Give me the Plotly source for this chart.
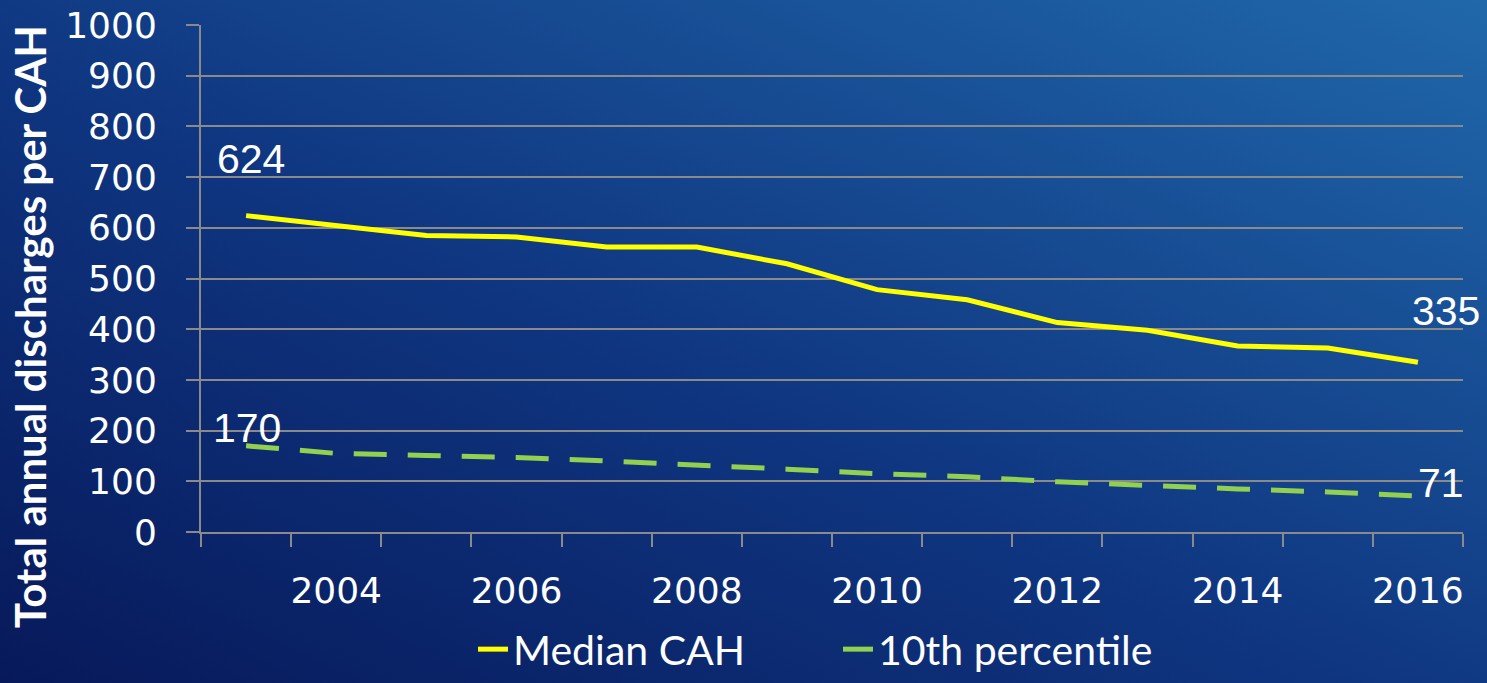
import base64
import plotly.graph_objects as go

# ---- data ----
years = [2003, 2004, 2005, 2006, 2007, 2008, 2009, 2010, 2011, 2012, 2013, 2014, 2015, 2016]
median_cah = [624, 604, 585, 582, 562, 562, 529, 478, 458, 413, 398, 367, 363, 335]
p10 = [170, 155, 151, 147, 140, 133, 124, 115, 109, 99, 91, 85, 79, 71]
tick_years = [2004, 2006, 2008, 2010, 2012, 2014, 2016]
y_ticks = [0, 100, 200, 300, 400, 500, 600, 700, 800, 900, 1000]
series_names = ["Median CAH", "10th percentile"]
y_title = "Total annual discharges per CAH"

W, H = 1487, 683
L, R, T, B = 201, 24, 25, 151
pw, ph = W - L - R, H - T - B

# background gradient as svg image
svg = f'''<svg xmlns="http://www.w3.org/2000/svg" width="{W}" height="{H}" viewBox="0 0 {W} {H}" preserveAspectRatio="none">
<defs><linearGradient id="g" x1="0" y1="1" x2="1" y2="0">
<stop offset="0" stop-color="#07195a"/>
<stop offset="0.45" stop-color="#0f3580"/>
<stop offset="1" stop-color="#2068aa"/>
</linearGradient></defs>
<rect x="0" y="0" width="{W}" height="{H}" fill="url(#g)"/></svg>'''
src = "data:image/svg+xml;base64," + base64.b64encode(svg.encode()).decode()

grid = "#8a8a8a"
tick_font = dict(family="DejaVu Sans, sans-serif", size=36, color="white")
lbl_font = dict(family="Liberation Sans, Arial, sans-serif", size=41, color="white")

fig = go.Figure()
fig.add_trace(go.Scatter(x=years, y=median_cah, mode="lines", name=series_names[0],
                         line=dict(color="#ffff00", width=5)))
fig.add_trace(go.Scatter(x=years, y=p10, mode="lines", name=series_names[1],
                         line=dict(color="#92d050", width=5, dash="33px,21px")))

# value labels at ends
ann = [
    (years[0], median_cah[0], 5, 57),
    (years[-1], median_cah[-1], 28, 51),
    (years[0], p10[0], 1, 18),
    (years[-1], p10[-1], 23, 13),
]
for x, y, xs, ys in ann:
    fig.add_annotation(x=x, y=y, text=str(y), showarrow=False, xshift=xs, yshift=ys, font=lbl_font)

# y-axis title as rotated annotation
fig.add_annotation(xref="paper", yref="paper", x=(30 - L) / pw, y=(H - B - 327) / ph,
                   text="<b>" + y_title + "</b>", textangle=-90, showarrow=False,
                   xanchor="center", yanchor="middle",
                   font=dict(family="Lato, sans-serif", size=42, color="white"))

boundaries = [y - 0.5 for y in years] + [years[-1] + 0.5]

fig.update_layout(
    width=W, height=H,
    margin=dict(l=L, r=R, t=T, b=B, pad=0, autoexpand=False),
    paper_bgcolor="#0f3580",
    plot_bgcolor="rgba(0,0,0,0)",
    images=[dict(source=src, xref="paper", yref="paper",
                 x=-L / pw, y=1 + T / ph, sizex=W / pw, sizey=H / ph,
                 sizing="stretch", layer="below", xanchor="left", yanchor="top")],
    showlegend=True,
    legend=dict(orientation="h", xref="container", yref="container",
                x=473 / W, xanchor="left", y=-8 / H, yanchor="bottom",
                font=dict(family="Lato, sans-serif", size=41, color="white"),
                bgcolor="rgba(0,0,0,0)", entrywidth=320, entrywidthmode="pixels",
                tracegroupgap=0),
    xaxis=dict(range=[years[0] - 0.5, years[-1] + 0.5], showgrid=False, zeroline=False,
               automargin=False,
               showline=True, linecolor=grid, linewidth=2,
               tickmode="array", tickvals=tick_years, ticktext=[str(t) for t in tick_years],
               ticks="", tickfont=tick_font, ticklabelstandoff=26,
               minor=dict(tickmode="array", tickvals=boundaries, ticks="outside",
                          ticklen=13, tickwidth=2, tickcolor=grid, showgrid=False)),
    yaxis=dict(range=[0, 1000], tickmode="array", tickvals=y_ticks, automargin=False,
               showgrid=True, gridcolor=grid, gridwidth=2, zeroline=False,
               showline=True, linecolor=grid, linewidth=2,
               ticks="outside", ticklen=13, tickwidth=2, tickcolor=grid,
               tickfont=tick_font, ticklabelstandoff=22),
)

fig.write_html("out.html", config={"displayModeBar": False},
               post_script="document.body.style.margin='0';document.body.style.overflow='hidden';")
